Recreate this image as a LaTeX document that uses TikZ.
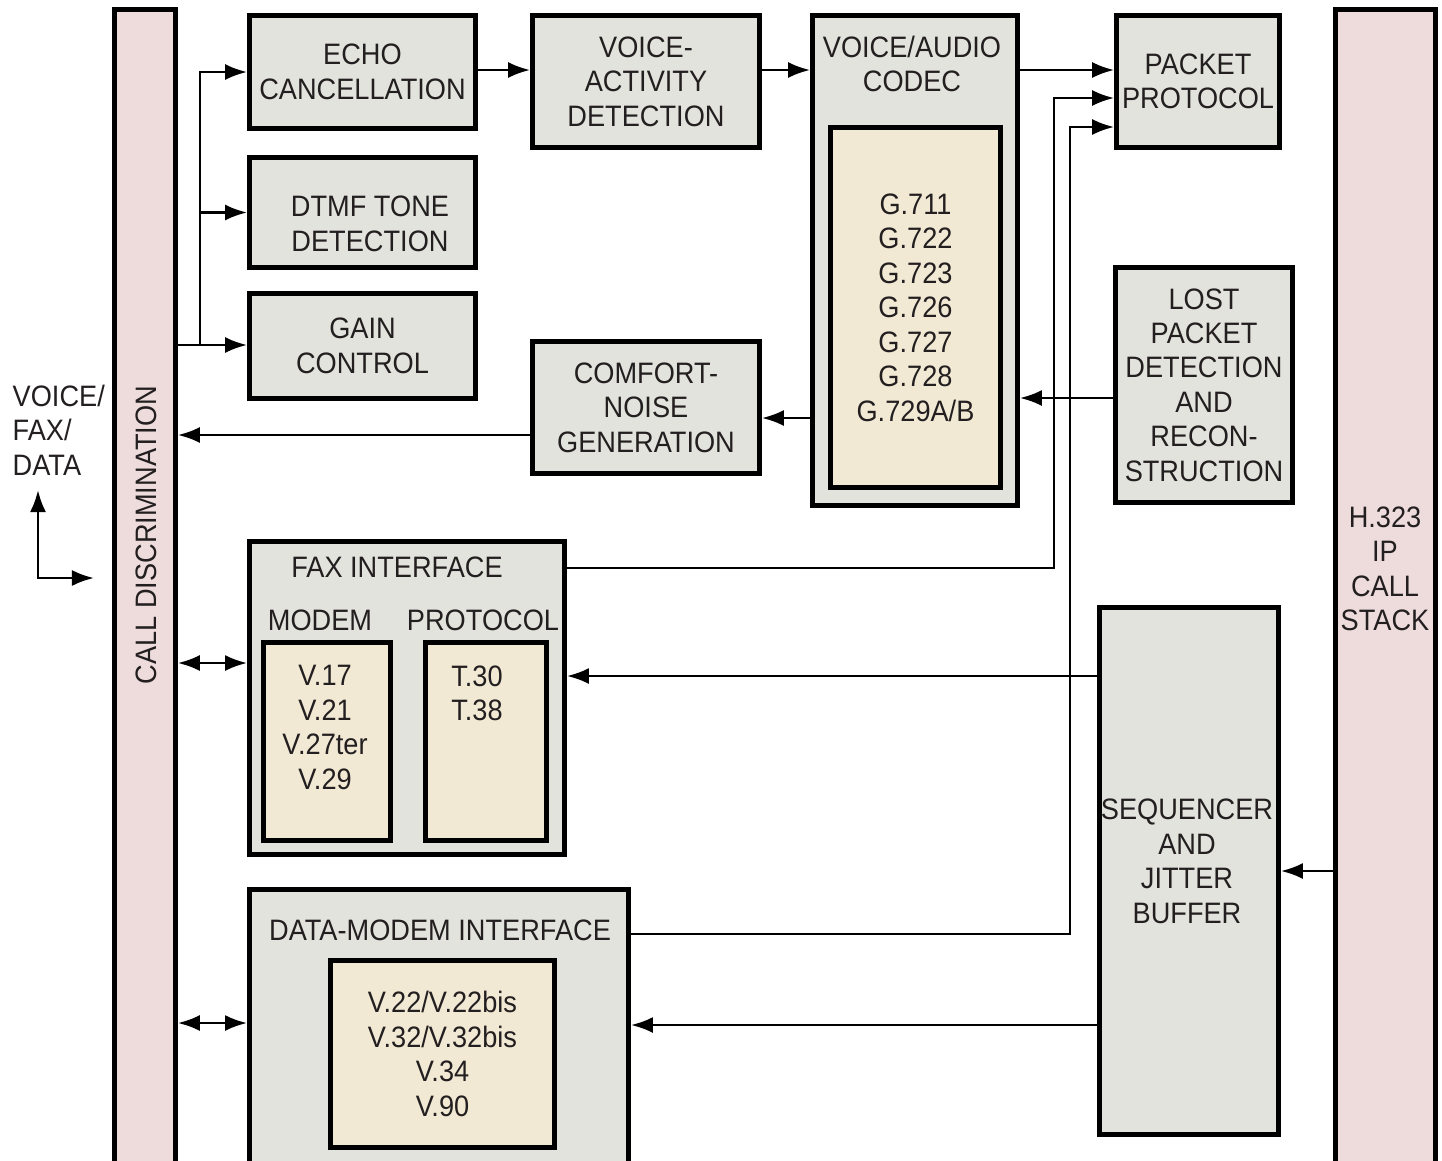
\documentclass[tikz,border=0pt]{standalone}
\usepackage{fontspec}
\setmainfont[FakeStretch=0.92]{Liberation Sans}
\usetikzlibrary{arrows.meta,positioning,calc}
\definecolor{barpink}{RGB}{237,220,219}
\definecolor{boxgrey}{RGB}{226,227,220}
\definecolor{cream}{RGB}{242,233,212}
\definecolor{ink}{RGB}{35,31,32}
\newcommand{\lab}{\fontsize{8.4}{9.8}\selectfont}
\tikzset{
  blk/.style={draw=black,line width=1.3pt,fill=boxgrey,inner sep=0pt,align=center,
              text=ink,font=\lab},
  bar/.style={blk,fill=barpink},
  inr/.style={blk,fill=cream},
  txt/.style={inner sep=0pt,align=center,text=ink,font=\lab},
  ln/.style={line width=0.8pt},
  arr/.style={ln,-{Latex[length=2.2mm,width=1.6mm]}},
  biarr/.style={ln,{Latex[length=2.2mm,width=1.6mm]}-{Latex[length=2.2mm,width=1.6mm]}},
  every picture/.style={line cap=butt,line join=miter}}

\begin{document}
\begin{tikzpicture}[x=0.01cm,y=-0.01cm]
  \useasboundingbox (0,0) rectangle (1442,1160);
  \clip (0,0) rectangle (1442,1160);
  % side bars
  \node[bar,minimum width=0.61cm,minimum height=11.6cm] (cd) at (145,590) {};
  \node[txt,rotate=90] (cdt) at (146,535) {CALL DISCRIMINATION};
  \node[bar,minimum width=1.00cm,minimum height=11.6cm] (h323) at (1385.5,590) {};
  \node[txt] (h323t) at (1385,569) {H.323\\IP\\CALL\\STACK};
  % voice path
  \node[blk,minimum width=2.26cm,minimum height=1.13cm] (echo) at (362.5,72) {ECHO\\CANCELLATION};
  \node[blk,minimum width=2.27cm,minimum height=1.32cm] (vad) at (646,81.5) {VOICE-\\ACTIVITY\\DETECTION};
  \node[blk,minimum width=2.05cm,minimum height=4.90cm] (codec) at (915,260.5) {};
  \node[txt] (codect) at (912,64) {VOICE/AUDIO\\CODEC};
  \node[inr,minimum width=1.70cm,minimum height=3.60cm] (codin) at (915.5,307.5)
    {G.711\\G.722\\G.723\\G.726\\G.727\\G.728\\G.729A/B};
  \node[blk,minimum width=1.63cm,minimum height=1.32cm] (pkt) at (1198,81.5) {PACKET\\PROTOCOL};
  \node[blk,minimum width=2.26cm,minimum height=1.10cm] (dtmf) at (362.5,212.5) {};
  \node[txt] (dtmft) at (370,224) {DTMF TONE\\DETECTION};
  \node[blk,minimum width=2.26cm,minimum height=1.05cm] (gain) at (362.5,346) {GAIN\\CONTROL};
  \node[blk,minimum width=2.27cm,minimum height=1.32cm] (cng) at (646,407.5) {COMFORT-\\NOISE\\GENERATION};
  \node[blk,minimum width=1.77cm,minimum height=2.35cm] (lost) at (1204,385)
    {LOST\\PACKET\\DETECTION\\AND\\RECON-\\STRUCTION};
  % fax and data
  \node[blk,minimum width=3.15cm,minimum height=3.13cm] (fax) at (407,698) {};
  \node[txt] (faxt) at (397,567) {FAX INTERFACE};
  \node[txt] (modt) at (320,620) {MODEM};
  \node[txt] (prot) at (483,620) {PROTOCOL};
  \node[inr,minimum width=1.27cm,minimum height=1.98cm] (modem) at (327,741.5) {};
  \node[txt] (modemt) at (325,727.5) {V.17\\V.21\\V.27ter\\V.29};
  \node[inr,minimum width=1.21cm,minimum height=1.98cm] (proto) at (486,741.5) {};
  \node[txt] (protot) at (477,693.5) {T.30\\T.38};
  \node[blk,minimum width=1.79cm,minimum height=5.27cm] (seq) at (1189,871) {};
  \node[txt] (seqt) at (1187,861.5) {SEQUENCER\\AND\\JITTER\\BUFFER};
  \node[blk,minimum width=3.79cm,minimum height=2.78cm] (dmi) at (439,1028.5) {};
  \node[txt] (dmit) at (440,930) {DATA-MODEM INTERFACE};
  \node[inr,minimum width=2.24cm,minimum height=1.87cm] (dmin) at (442.5,1054)
    {V.22/V.22bis\\V.32/V.32bis\\V.34\\V.90};
  \node[txt,anchor=west,align=left] (vfd) at (12,430) {VOICE/\\FAX/\\DATA};
  % connectors
  \coordinate (br) at (200,345);
  \draw[arr] (cd.east|-br) -- (gain.west|-br);
  \draw[arr] (br) |- (echo.west);
  \draw[arr] (br) |- (dtmf.west);
  \coordinate (top) at (0,70);
  \draw[arr] (echo.east|-top) -- (vad.west|-top);
  \draw[arr] (vad.east|-top) -- (codec.west|-top);
  \draw[arr] (codec.east|-top) -- (pkt.west|-top);
  \coordinate (fx1) at (1054,568); \coordinate (fx2) at (1054,98);
  \draw[arr] (fax.east|-fx1) -- (fx1) -- (fx2) -- (pkt.west|-fx2);
  \coordinate (dm1) at (1070,934); \coordinate (dm2) at (1070,127);
  \draw[arr] (dmi.east|-dm1) -- (dm1) -- (dm2) -- (pkt.west|-dm2);
  \coordinate (lc) at (0,398);
  \draw[arr] (lost.west|-lc) -- (codec.east|-lc);
  \coordinate (cn) at (0,418); \coordinate (cn2) at (0,435);
  \draw[arr] (codec.west|-cn) -- (cng.east|-cn);
  \draw[arr] (cng.west|-cn2) -- (cd.east|-cn2);
  \coordinate (sf) at (0,676); \coordinate (sd) at (0,1025);
  \draw[arr] (seq.west|-sf) -- (fax.east|-sf);
  \draw[arr] (seq.west|-sd) -- (dmi.east|-sd);
  \draw[arr] (h323.west|-seq.east) -- (seq.east);
  \coordinate (bf) at (0,663); \coordinate (bd) at (0,1023);
  \draw[biarr] (cd.east|-bf) -- (fax.west|-bf);
  \draw[biarr] (cd.east|-bd) -- (dmi.west|-bd);
  % legend
  \coordinate (lg) at (38,578); \coordinate (lgu) at (38,490); \coordinate (lgr) at (94,578);
  \draw[biarr] (lgu) -- (lg) -- (lgr);
\end{tikzpicture}
\end{document}
